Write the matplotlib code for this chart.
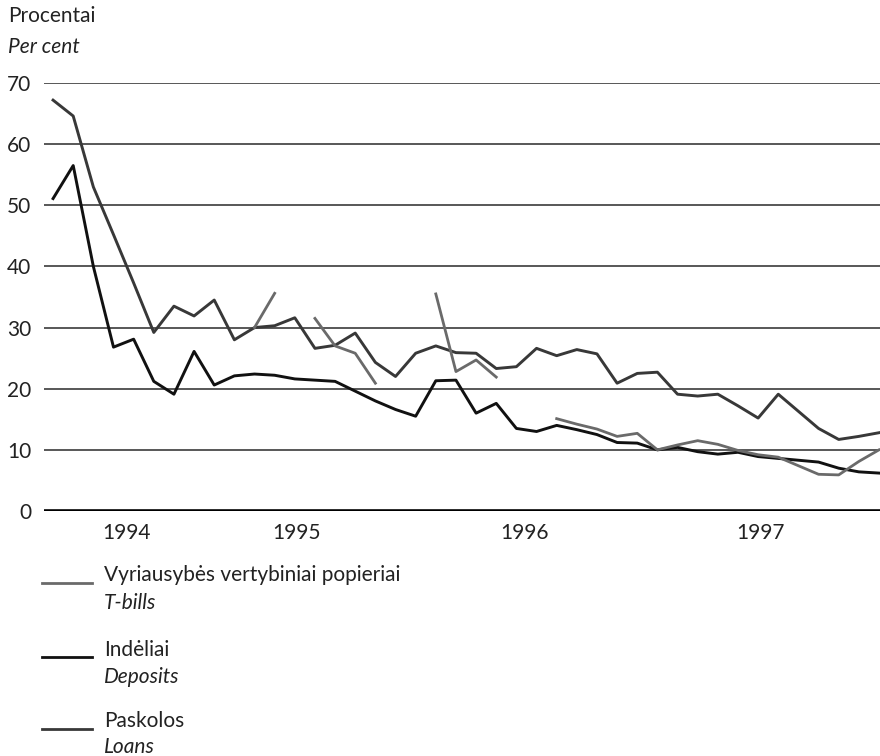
import numpy as np
import matplotlib
matplotlib.use("Agg")
import matplotlib.pyplot as plt
from matplotlib.lines import Line2D

plt.rcParams['font.family'] = ['Lato', 'DejaVu Sans']

nan = np.nan
# monthly observations, index 0 = first month shown
loans = [67.2, 64.6, 53.0, 45.2, 37.3, 29.2, 33.5, 31.9, 34.5, 28.0,
         30.0, 30.3, 31.6, 26.6, 27.1, 29.1, 24.3, 22.0, 25.8, 27.0,
         25.9, 25.8, 23.3, 23.6, 26.6, 25.4, 26.4, 25.7, 20.9, 22.5,
         22.7, 19.1, 18.8, 19.1, 17.2, 15.2, 19.1, 16.3, 13.5, 11.7,
         12.2, 12.8]
deposits = [51.1, 56.5, 40.0, 26.8, 28.1, 21.2, 19.1, 26.1, 20.6, 22.1,
            22.4, 22.2, 21.6, 21.4, 21.2, 19.6, 18.0, 16.6, 15.5, 21.3,
            21.4, 16.0, 17.6, 13.5, 13.0, 14.0, 13.3, 12.5, 11.2, 11.1,
            10.0, 10.4, 9.7, 9.3, 9.6, 8.9, 8.6, 8.3, 8.0, 7.0,
            6.4, 6.2]
tbills = [nan, nan, nan, nan, nan, nan, nan, nan, nan, nan,
          30.0, 35.6, nan, 31.5, 27.0, 25.8, 20.9, nan, nan, 35.5,
          22.8, 24.7, 21.9, nan, nan, 15.1, 14.2, 13.4, 12.2, 12.7,
          10.0, 10.8, 11.5, 10.9, 9.9, 9.2, 8.8, 7.4, 6.0, 5.9,
          8.1, 10.0]
year_labels = ["1994", "1995", "1996", "1997"]
year_pos = [3.67, 12.1, 23.4, 35.1]
yticks = [0, 10, 20, 30, 40, 50, 60, 70]

x = np.arange(len(loans))

fig = plt.figure(figsize=(8.8, 7.56), dpi=100)
ax = fig.add_axes([0.05, 0.3241, 0.95, 0.5661])

c_tb = "#6a6a6a"
c_dep = "#111111"
c_loan = "#383838"
txt = "#222222"
fs = 15

for yv in yticks[1:]:
    ax.axhline(yv, color="#2a2a2a", lw=1.1, zorder=1)
ax.axhline(0, color="black", lw=2.6, zorder=1)

ax.plot(x, tbills, color=c_tb, lw=2.0, zorder=3)
ax.plot(x, loans, color=c_loan, lw=2.1, zorder=2)
ax.plot(x, deposits, color=c_dep, lw=2.1, zorder=2)

ax.set_xlim(-0.45, 41.05)
ax.set_ylim(0, 70)
ax.set_yticks(yticks)
ax.set_yticklabels([str(v) for v in yticks], fontsize=fs, color=txt)
ax.set_xticks(year_pos)
ax.set_xticklabels(year_labels, fontsize=fs, color=txt)
ax.tick_params(axis="y", length=0, pad=9)
ax.tick_params(axis="x", length=0, pad=9)
for s in ax.spines.values():
    s.set_visible(False)

fig.text(8 / 880, 1 - 16 / 756, "Procentai", fontsize=fs, va="center", ha="left", color=txt)
fig.text(8 / 880, 1 - 47 / 756, "Per cent", fontsize=fs, style="italic", va="center", ha="left", color=txt)

legend_items = [
    ("Vyriausybės vertybiniai popieriai", "T-bills", c_tb, 583, 575, 603),
    ("Indėliai", "Deposits", c_dep, 657, 650, 677),
    ("Paskolos", "Loans", c_loan, 729, 721, 747),
]
for lt, en, col, ly, t1, t2 in legend_items:
    fig.add_artist(Line2D([42 / 880, 92 / 880], [1 - ly / 756, 1 - ly / 756],
                          color=col, lw=2.0, transform=fig.transFigure))
    fig.text(104 / 880, 1 - t1 / 756, lt, fontsize=fs, va="center", ha="left", color=txt)
    fig.text(104 / 880, 1 - t2 / 756, en, fontsize=fs, style="italic", va="center", ha="left", color=txt)

fig.savefig("out.png", dpi=100)
